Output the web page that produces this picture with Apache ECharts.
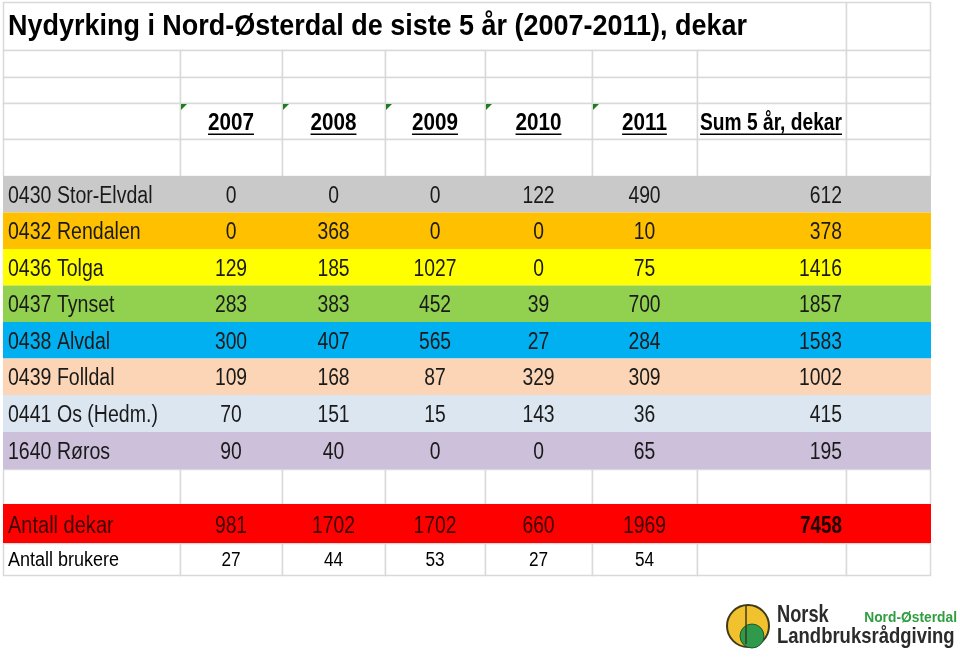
<!DOCTYPE html>
<html>
<head>
<meta charset="utf-8">
<style>
  html, body { margin: 0; padding: 0; background: #fff; }
  #main { width: 960px; height: 657px; }
</style>
<script src="https://cdn.jsdelivr.net/npm/echarts@6/dist/echarts.min.js"></script>
</head>
<body>
<div id="main"></div>
<script>
// --- data ---
const title = 'Nydyrking i Nord-Østerdal de siste 5 år (2007-2011), dekar';
const years = ['2007', '2008', '2009', '2010', '2011'];
const sumLabel = 'Sum 5 år, dekar';
const municipalities = [
  '0430 Stor-Elvdal', '0432 Rendalen', '0436 Tolga', '0437 Tynset',
  '0438 Alvdal', '0439 Folldal', '0441 Os (Hedm.)', '1640 Røros',
];
const dekar2007 = [0, 0, 129, 283, 300, 109, 70, 90];
const dekar2008 = [0, 368, 185, 383, 407, 168, 151, 40];
const dekar2009 = [0, 0, 1027, 452, 565, 87, 15, 0];
const dekar2010 = [122, 0, 0, 39, 27, 329, 143, 0];
const dekar2011 = [490, 10, 75, 700, 284, 309, 36, 65];
const sum5 = [612, 378, 1416, 1857, 1583, 1002, 415, 195];
const totalLabel = 'Antall dekar';
const totals = [981, 1702, 1702, 660, 1969];
const totalSum = 7458;
const usersLabel = 'Antall brukere';
const users = [27, 44, 53, 27, 54];

// --- sheet layout ---
const colEdges = [3, 180, 282, 385, 485, 592, 697, 846, 930];
const rowEdges = [2, 50, 77, 103, 139, 176, 212.5, 249, 285.5, 322, 358.5, 395, 432, 469, 504, 543, 575];
const rowColors = ['#c9c9c9', '#ffc000', '#ffff00', '#92d050', '#00b0f0', '#fbd5b5', '#dce6f1', '#ccc0da'];
const FONT = '"Liberation Sans", Arial, sans-serif';
const GRID = '#d9d9d9';
const FIRST_DATA_ROW = 5;
const TOTAL_ROW = 14;
const USERS_ROW = 15;

const yearCols = [dekar2007, dekar2008, dekar2009, dekar2010, dekar2011];

// fills: [c0, c1, row, fill, stroked]
const fills = [];
fills.push([0, 6, 0, '#fff', true]);
fills.push([7, 7, 0, '#fff', true]);
[1, 2, 3, 4, 13, 15].forEach((r) => {
  for (let c = 0; c < 8; c++) fills.push([c, c, r, '#fff', true]);
});
rowColors.forEach((col, i) => fills.push([0, 7, FIRST_DATA_ROW + i, col, false]));
fills.push([0, 7, TOTAL_ROW, '#ff0000', false]);

// texts: [col, row, text, kind]
const texts = [];
texts.push([0, 0, title, 'title']);
years.forEach((y, i) => texts.push([i + 1, 3, y, 'head']));
texts.push([6, 3, sumLabel, 'headSum']);
municipalities.forEach((m, r) => {
  texts.push([0, FIRST_DATA_ROW + r, m, 'label']);
  yearCols.forEach((arr, c) => texts.push([c + 1, FIRST_DATA_ROW + r, String(arr[r]), 'num']));
  texts.push([6, FIRST_DATA_ROW + r, String(sum5[r]), 'sum']);
});
texts.push([0, TOTAL_ROW, totalLabel, 'totalLabel']);
totals.forEach((v, i) => texts.push([i + 1, TOTAL_ROW, String(v), 'total']));
texts.push([6, TOTAL_ROW, String(totalSum), 'totalSum']);
texts.push([0, USERS_ROW, usersLabel, 'usersLabel']);
users.forEach((v, i) => texts.push([i + 1, USERS_ROW, String(v), 'users']));

const measureCtx = document.createElement('canvas').getContext('2d');
function textWidth(str, size, weight) {
  measureCtx.font = `${weight} ${size}px ${FONT}`;
  return measureCtx.measureText(str).width;
}

function box(api, c0, c1, r) {
  const tl = api.coord([colEdges[c0], rowEdges[r]]);
  const br = api.coord([colEdges[c1 + 1], rowEdges[r + 1]]);
  return { x: tl[0], y: tl[1], w: br[0] - tl[0], h: br[1] - tl[1] };
}

// calibri-like look: arial squeezed horizontally
const kinds = {
  title: { size: 29, weight: 'bold', align: 'left', color: '#000', sx: 0.93, dy: 1 },
  head: { size: 24, weight: 'bold', align: 'center', color: '#000', sx: 0.86, dy: 2.5, underline: true, flag: true },
  headSum: { size: 24, weight: 'bold', align: 'right', color: '#000', sx: 0.8, dy: 2.5, underline: true },
  label: { size: 23, weight: 'normal', align: 'left', color: '#1a1a1a', sx: 0.85, dy: 2 },
  num: { size: 23, weight: 'normal', align: 'center', color: '#1a1a1a', sx: 0.84, dy: 2 },
  sum: { size: 23, weight: 'normal', align: 'right', color: '#1a1a1a', sx: 0.84, dy: 2 },
  totalLabel: { size: 23, weight: 'normal', align: 'left', color: '#3a0000', sx: 0.87, dy: 3.5 },
  total: { size: 23, weight: 'normal', align: 'center', color: '#3a0000', sx: 0.84, dy: 3.5 },
  totalSum: { size: 23, weight: 'bold', align: 'right', color: '#1a0000', sx: 0.82, dy: 3.5 },
  usersLabel: { size: 20, weight: 'normal', align: 'left', color: '#000', sx: 0.9, dy: 1 },
  users: { size: 20, weight: 'normal', align: 'center', color: '#000', sx: 0.86, dy: 1 },
};

function renderFill(params, api) {
  const f = fills[params.dataIndex];
  const b = box(api, f[0], f[1], f[2]);
  if (f[4]) {
    return {
      type: 'rect',
      shape: { x: Math.round(b.x) + 0.5, y: Math.round(b.y) + 0.5, width: Math.round(b.w), height: Math.round(b.h) },
      style: { fill: f[3], stroke: GRID, lineWidth: 1.5 },
    };
  }
  return {
    type: 'rect',
    shape: { x: b.x, y: b.y, width: b.w + 1, height: b.h },
    style: { fill: f[3] },
  };
}

function renderText(params, api) {
  const t = texts[params.dataIndex];
  const k = kinds[t[3]];
  const b = box(api, t[0], t[0], t[1]);
  let x = b.x + 5;
  if (k.align === 'center') x = b.x + b.w / 2;
  if (k.align === 'right') x = b.x + b.w - 4;
  const y = b.y + b.h / 2 + k.dy;
  const children = [{
    type: 'text',
    x,
    y,
    scaleX: k.sx,
    style: {
      text: t[2], x: 0, y: 0, fill: k.color,
      fontSize: k.size, fontWeight: k.weight, fontFamily: FONT,
      align: k.align, verticalAlign: 'middle',
    },
  }];
  if (k.underline) {
    const w = textWidth(t[2], k.size, k.weight) * k.sx;
    let x0 = x;
    if (k.align === 'center') x0 = x - w / 2;
    if (k.align === 'right') x0 = x - w;
    children.push({
      type: 'rect',
      shape: { x: x0, y: y + 10, width: w, height: 1.5 },
      style: { fill: '#000' },
    });
  }
  if (k.flag) {
    children.push({
      type: 'polygon',
      shape: { points: [[b.x + 1, b.y + 1], [b.x + 7, b.y + 1], [b.x + 1, b.y + 7]] },
      style: { fill: '#1e7d1e' },
    });
  }
  return { type: 'group', children };
}

const chart = echarts.init(document.getElementById('main'));
chart.setOption({
  animation: false,
  backgroundColor: '#fff',
  grid: { left: 0, right: 0, top: 0, bottom: 0 },
  xAxis: { type: 'value', min: 0, max: 960, show: false },
  yAxis: { type: 'value', min: 0, max: 657, inverse: true, show: false },
  series: [
    {
      type: 'custom',
      renderItem: renderFill,
      data: fills.map(f => [f[0], f[2]]),
      clip: false,
      silent: true,
      z: 1,
    },
    {
      type: 'custom',
      renderItem: renderText,
      data: texts.map(t => [t[0], t[1]]),
      clip: false,
      silent: true,
      z: 2,
    },
  ],
  // logo of Norsk Landbruksrådgiving Nord-Østerdal
  graphic: [
    { type: 'circle', shape: { cx: 748, cy: 626, r: 21 }, style: { fill: '#f2c12e', stroke: '#3d3a1c', lineWidth: 2 } },
    { type: 'circle', shape: { cx: 752, cy: 636, r: 12 }, style: { fill: '#2f9a4c', stroke: '#1e5a2c', lineWidth: 1 } },
    { type: 'line', shape: { x1: 746, y1: 606, x2: 746, y2: 644 }, style: { stroke: '#3d3a1c', lineWidth: 1.5 } },
    { type: 'text', x: 777, y: 615, scaleX: 0.76, style: { text: 'Norsk', x: 0, y: 0, fill: '#2b2b2b', fontSize: 24, fontWeight: 'bold', fontFamily: FONT, verticalAlign: 'middle' } },
    { type: 'text', x: 777, y: 637, scaleX: 0.84, style: { text: 'Landbruksrådgiving', x: 0, y: 0, fill: '#2b2b2b', fontSize: 22, fontWeight: 'bold', fontFamily: FONT, verticalAlign: 'middle' } },
    { type: 'text', x: 957, y: 618, scaleX: 0.92, style: { text: 'Nord-Østerdal', x: 0, y: 0, fill: '#2e9e3e', fontSize: 15, fontWeight: 'bold', fontFamily: FONT, align: 'right', verticalAlign: 'middle' } },
  ],
});
</script>
</body>
</html>
